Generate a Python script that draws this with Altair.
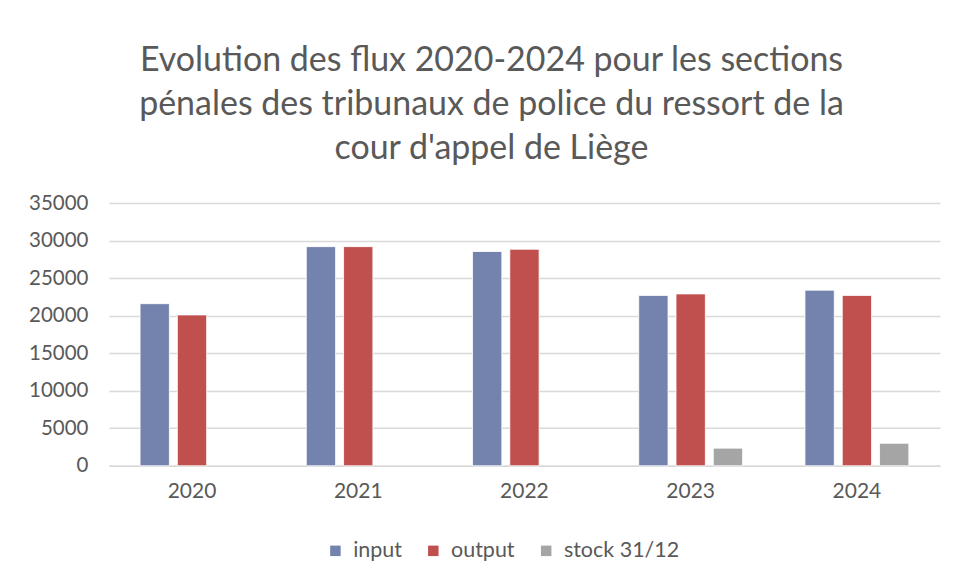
import altair as alt
import pandas as pd

years = ["2020", "2021", "2022", "2023", "2024"]
series = ["input", "output", "stock 31/12"]
input_vals = [21600, 29200, 28550, 22700, 23400]
output_vals = [20100, 29200, 28850, 22900, 22700]
stock_vals = [None, None, None, 2350, 3000]
colors = ["#7383AD", "#C0504D", "#A5A5A5"]

rows = []
for i, y in enumerate(years):
    for s, vals in zip(series, [input_vals, output_vals, stock_vals]):
        if vals[i] is not None:
            rows.append({"year": y, "series": s, "value": vals[i]})
df = pd.DataFrame(rows)

font = "Lato"
grey = "#595959"

chart = alt.Chart(df).mark_bar(stroke="white", strokeWidth=0.8).encode(
    x=alt.X("year:N", sort=years,
            scale=alt.Scale(paddingInner=0.375, paddingOuter=0.1875),
            axis=alt.Axis(title=None, labelAngle=0, ticks=False, domain=True,
                          domainColor="#D9D9D9", domainWidth=1.5,
                          labelFont=font, labelFontSize=21, labelColor=grey,
                          labelPadding=15)),
    xOffset=alt.XOffset("series:N", sort=series,
                        scale=alt.Scale(domain=series, paddingInner=0.214, paddingOuter=0)),
    y=alt.Y("value:Q",
            scale=alt.Scale(domain=[0, 35000]),
            axis=alt.Axis(title=None, values=list(range(0, 35001, 5000)), format="d",
                          ticks=False, domain=False, grid=True,
                          gridColor="#D9D9D9", gridWidth=1.5,
                          labelFont=font, labelFontSize=20.5, labelColor=grey,
                          labelPadding=21)),
    color=alt.Color("series:N", sort=series,
                    scale=alt.Scale(domain=series, range=colors),
                    legend=alt.Legend(title=None, orient="none", direction="horizontal",
                                      legendX=216, legendY=337,
                                      symbolType="square", symbolSize=110,
                                      symbolStrokeWidth=0,
                                      labelFont=font, labelFontSize=21.5, labelColor=grey,
                                      labelOffset=7, columnPadding=20)),
).properties(
    width=832,
    height=263,
    title=alt.TitleParams(
        text=["Evolution des flux 2020-2024 pour les sections",
              "pénales des tribunaux de police du ressort de la",
              "cour d'appel de Liège"],
        anchor="middle", frame="group", font=font, fontSize=34,
        fontWeight="normal", color=grey, lineHeight=44, dx=-33, offset=27),
    autosize=alt.AutoSizeParams(type="none"),
    padding={"left": 101, "top": 195, "right": 10, "bottom": 100},
).configure_view(stroke=None)

chart.save("out.html", embed_options={"renderer": "svg", "actions": False})
